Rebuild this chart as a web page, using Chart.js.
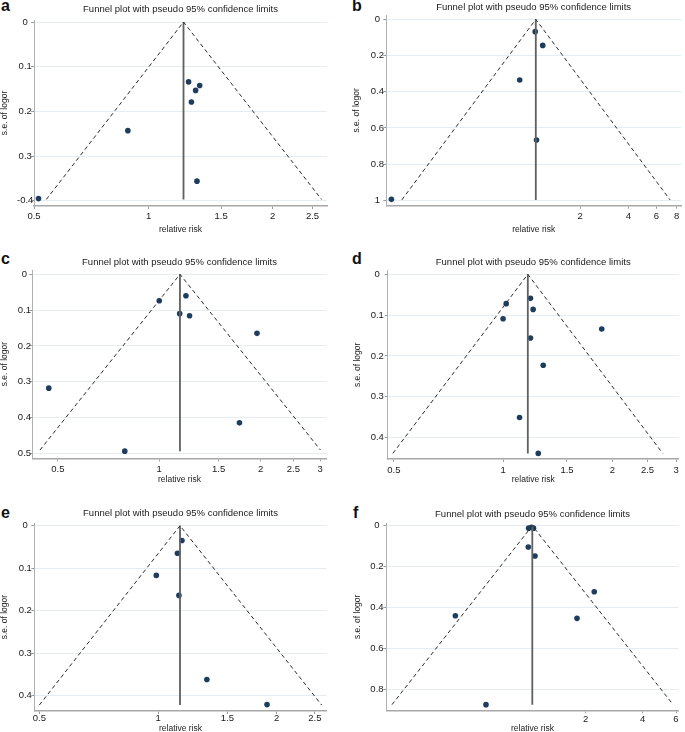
<!DOCTYPE html>
<html>
<head>
<meta charset="utf-8">
<script src="https://cdn.jsdelivr.net/npm/chart.js@4.4.1/dist/chart.umd.min.js"></script>
<style>
  body { margin: 0; background: #fff; width: 685px; height: 732px; position: relative; overflow: hidden; }
  canvas { position: absolute; }
  .tag { position: absolute; font: bold 16px "Liberation Sans", Arial, sans-serif; line-height: 16px; color: #111; }
</style>
</head>
<body>
<div class="tag" style="left:1px;top:-2px">a</div>
<div class="tag" style="left:352px;top:-2px">b</div>
<div class="tag" style="left:1px;top:251px">c</div>
<div class="tag" style="left:352px;top:251px">d</div>
<div class="tag" style="left:1px;top:505px">e</div>
<div class="tag" style="left:353px;top:505px">f</div>
<script>
const TITLE = 'Funnel plot with pseudo 95% confidence limits';

// panel a
const aRR = [1.25, 1.33, 1.30, 1.27, 0.89, 1.31, 0.54];
const aSE = [0.134, 0.142, 0.153, 0.179, 0.243, 0.356, 0.395];
const aFunnelRR = [0.564, 1.215, 2.63];
const aFunnelSE = [0.397, 0, 0.397];
const aPooledSE = [0, 0.397];
const aXTicks = [0.5265, 1, 1.5, 2, 2.5];
const aXLabels = ['0.5', '1', '1.5', '2', '2.5'];
const aYTicks = [0, 0.1, 0.2, 0.3, 0.4];
const aYLabels = ['0', '0.1', '0.2', '0.3', '-0.4'];

// panel b
const bRR = [1.05, 1.17, 0.84, 1.07, 0.133];
const bSE = [0.068, 0.144, 0.335, 0.667, 0.995];
const bFunnelRR = [0.1545, 1.059, 7.29];
const bFunnelSE = [0.998, 0, 0.998];
const bPooledSE = [0, 0.998];
const bXTicks = [2, 4, 6, 8];
const bXLabels = ['2', '4', '6', '8'];
const bYTicks = [0, 0.2, 0.4, 0.6, 0.8, 1];
const bYLabels = ['0', '0.2', '0.4', '0.6', '0.8', '1'];

// panel c
const cRR = [1.00, 1.20, 1.15, 1.23, 1.95, 0.47, 1.73, 0.79];
const cSE = [0.074, 0.060, 0.110, 0.116, 0.165, 0.318, 0.415, 0.494];
const cFunnelRR = [0.4425, 1.152, 3.01];
const cFunnelSE = [0.491, 0, 0.491];
const cPooledSE = [0, 0.494];
const cXTicks = [0.5, 1, 1.5, 2, 2.5, 3];
const cXLabels = ['0.5', '1', '1.5', '2', '2.5', '3'];
const cYTicks = [0, 0.1, 0.2, 0.3, 0.4, 0.5];
const cYLabels = ['0', '0.1', '0.2', '0.3', '0.4', '0.5'];

// panel d
const dRR = [1.02, 1.19, 1.21, 1.00, 1.19, 1.87, 1.29, 1.11, 1.25];
const dSE = [0.072, 0.059, 0.086, 0.109, 0.156, 0.134, 0.223, 0.351, 0.439];
const dFunnelRR = [0.497, 1.17, 2.753];
const dFunnelSE = [0.439, 0, 0.439];
const dPooledSE = [0, 0.439];
const dXTicks = [0.5, 1, 1.5, 2, 2.5, 3];
const dXLabels = ['0.5', '1', '1.5', '2', '2.5', '3'];
const dYTicks = [0, 0.1, 0.2, 0.3, 0.4];
const dYLabels = ['0', '0.1', '0.2', '0.3', '0.4'];

// panel e
const eRR = [1.15, 1.12, 0.99, 1.13, 1.33, 1.89];
const eSE = [0.035, 0.065, 0.117, 0.164, 0.362, 0.421];
const eFunnelRR = [0.50, 1.137, 2.60];
const eFunnelSE = [0.422, 0, 0.422];
const ePooledSE = [0, 0.422];
const eXTicks = [0.5, 1, 1.5, 2, 2.5];
const eXLabels = ['0.5', '1', '1.5', '2', '2.5'];
const eYTicks = [0, 0.1, 0.2, 0.3, 0.4];
const eYLabels = ['0', '0.1', '0.2', '0.3', '0.4'];

// panel f
const fRR = [1.00, 1.035, 1.06, 0.995, 1.08, 2.22, 1.80, 0.41, 0.595];
const fSE = [0.012, 0.008, 0.012, 0.104, 0.148, 0.322, 0.452, 0.439, 0.873];
const fFunnelRR = [0.1896, 1.045, 5.79];
const fFunnelSE = [0.873, 0, 0.873];
const fPooledSE = [0, 0.873];
const fXTicks = [2, 4, 6];
const fXLabels = ['2', '4', '6'];
const fYTicks = [0, 0.2, 0.4, 0.6, 0.8];
const fYLabels = ['0', '0.2', '0.4', '0.6', '0.8'];

const FONT = '"Liberation Sans", Arial, Helvetica, sans-serif';
const TITLE_SIZE = 9.5, TICK_SIZE = 9.5, LAB_SIZE = 8.5, TICK_LEN = 3;

function makePanel(p) {
  const [bx, by, bw, bh0] = p.box;
  const [al, at, ar, ab] = p.area;
  const titleLH = TITLE_SIZE * 1.2, tickLH = TICK_SIZE * 1.2, labLH = LAB_SIZE * 1.2;
  const bh = Math.max(bh0, Math.ceil(p.xTitleY + labLH / 2 + 1 - by));

  const canvas = document.createElement('canvas');
  canvas.width = bw;
  canvas.height = bh;
  canvas.style.left = bx + 'px';
  canvas.style.top = by + 'px';
  document.body.appendChild(canvas);

  const titlePadTop = p.titleY - by - titleLH / 2;
  const titlePadBottom = at - by - titlePadTop - titleLH;
  const yAxisW = al - bx;
  const xAxisH = p.xTitleY + labLH / 2 - ab;
  const xTickPad = p.tickY - ab - TICK_LEN - tickLH / 2;
  const yTitlePad = Math.max(0, p.yTitleX - bx - labLH / 2);
  const widest = Math.max(...p.yLabels.map(s => s.length));
  const yTickPad = al - TICK_LEN - p.yLabX - widest * TICK_SIZE * 0.3;

  const pts = p.rr.map((x, i) => ({x: x, y: p.se[i]}));
  const funnel = p.funnelRR.map((x, i) => ({x: x, y: p.funnelSE[i]}));
  const pooled = p.pooledSE.map(y => ({x: p.funnelRR[1], y: y}));

  new Chart(canvas, {
    type: 'scatter',
    data: {
      datasets: [
        {data: funnel, showLine: true, borderColor: '#2a2a2a', borderWidth: 1, borderDash: [4, 3], pointRadius: 0, clip: false},
        {data: pooled, showLine: true, borderColor: '#606060', borderWidth: 1.8, pointRadius: 0, clip: false},
        {data: pts, pointRadius: 2.8, pointBackgroundColor: '#1d3c5e', pointBorderWidth: 0, clip: false}
      ]
    },
    options: {
      responsive: false,
      animation: false,
      events: [],
      layout: {padding: {left: 0, top: 0, right: bx + bw - ar, bottom: by + bh - ab - xAxisH}},
      plugins: {
        legend: {display: false},
        tooltip: {enabled: false},
        title: {
          display: true, text: TITLE, fullSize: false, color: '#1a1a1a',
          font: {family: FONT, size: TITLE_SIZE, weight: 'normal'},
          padding: {top: titlePadTop, bottom: titlePadBottom}
        }
      },
      scales: {
        x: {
          type: 'logarithmic', min: p.xMin, max: p.xMax,
          afterBuildTicks: s => { s.ticks = p.xTicks.map(v => ({value: v})); },
          afterFit: s => { s.height = xAxisH; },
          ticks: {
            autoSkip: false, maxRotation: 0, padding: xTickPad, color: '#1a1a1a',
            font: {family: FONT, size: TICK_SIZE},
            callback: (v, i) => p.xLabels[i]
          },
          grid: {drawOnChartArea: false, drawTicks: true, tickLength: TICK_LEN, tickColor: '#9a9a9a'},
          border: {display: true, color: '#a8a8a8', width: 1.5},
          title: {display: true, text: 'relative risk', color: '#1a1a1a', font: {family: FONT, size: LAB_SIZE}, padding: {top: 0, bottom: 0}}
        },
        y: {
          type: 'linear', reverse: true, min: p.yMin, max: p.yMax, bounds: 'data',
          afterBuildTicks: s => { s.ticks = p.yTicks.map(v => ({value: v})); },
          afterFit: s => { s.width = yAxisW; },
          ticks: {
            autoSkip: false, crossAlign: 'center', padding: yTickPad, color: '#1a1a1a',
            font: {family: FONT, size: TICK_SIZE},
            callback: (v, i) => p.yLabels[i]
          },
          grid: {color: '#e4edf1', lineWidth: 1, drawTicks: true, tickLength: TICK_LEN, tickColor: '#9a9a9a'},
          border: {display: true, color: '#b0b0b0', width: 1},
          title: {display: true, text: 's.e. of logor', color: '#1a1a1a', font: {family: FONT, size: LAB_SIZE}, padding: {top: yTitlePad, bottom: 0}}
        }
      }
    }
  });
}

const panels = [
  {rr: aRR, se: aSE, funnelRR: aFunnelRR, funnelSE: aFunnelSE, pooledSE: aPooledSE,
   xTicks: aXTicks, xLabels: aXLabels, yTicks: aYTicks, yLabels: aYLabels,
   box: [0, 0, 342, 240], area: [34, 20, 327, 206], xMin: 0.5265, xMax: 2.711, yMin: -0.0045, yMax: 0.4116,
   titleY: 9.5, tickY: 216.7, xTitleY: 229.3, yTitleX: 5, yLabX: 22},
  {rr: bRR, se: bSE, funnelRR: bFunnelRR, funnelSE: bFunnelSE, pooledSE: bPooledSE,
   xTicks: bXTicks, xLabels: bXLabels, yTicks: bYTicks, yLabels: bYLabels,
   box: [342, 0, 343, 240], area: [386.3, 15, 684, 205.7], xMin: 0.1236, xMax: 8.53, yMin: -0.024, yMax: 1.03,
   titleY: 7.3, tickY: 216.7, xTitleY: 229.3, yTitleX: 357, yLabX: 375.5},
  {rr: cRR, se: cSE, funnelRR: cFunnelRR, funnelSE: cFunnelSE, pooledSE: cPooledSE,
   xTicks: cXTicks, xLabels: cXLabels, yTicks: cYTicks, yLabels: cYLabels,
   box: [0, 240, 342, 245], area: [32.3, 270, 326.7, 458.3], xMin: 0.420, xMax: 3.14, yMin: -0.012, yMax: 0.514,
   titleY: 262.7, tickY: 469.3, xTitleY: 479.3, yTitleX: 5, yLabX: 22.5},
  {rr: dRR, se: dSE, funnelRR: dFunnelRR, funnelSE: dFunnelSE, pooledSE: dPooledSE,
   xTicks: dXTicks, xLabels: dXLabels, yTicks: dYTicks, yLabels: dYLabels,
   box: [342, 240, 343, 245], area: [387.7, 270.7, 678.7, 459], xMin: 0.481, xMax: 3.047, yMin: -0.0088, yMax: 0.4527,
   titleY: 262.7, tickY: 470, xTitleY: 479.3, yTitleX: 358, yLabX: 375.3},
  {rr: eRR, se: eSE, funnelRR: eFunnelRR, funnelSE: eFunnelSE, pooledSE: ePooledSE,
   xTicks: eXTicks, xLabels: eXLabels, yTicks: eYTicks, yLabels: eYLabels,
   box: [0, 485, 342, 247], area: [34.3, 523.3, 326.7, 711], xMin: 0.4855, xMax: 2.678, yMin: -0.0056, yMax: 0.436,
   titleY: 513.3, tickY: 718.3, xTitleY: 728.3, yTitleX: 5, yLabX: 23.3},
  {rr: fRR, se: fSE, funnelRR: fFunnelRR, funnelSE: fFunnelSE, pooledSE: fPooledSE,
   xTicks: fXTicks, xLabels: fXLabels, yTicks: fYTicks, yLabels: fYLabels,
   box: [342, 485, 343, 247], area: [386.3, 523.3, 678.7, 710.3], xMin: 0.177, xMax: 6.20, yMin: -0.0117, yMax: 0.9005,
   titleY: 514.3, tickY: 719, xTitleY: 729, yTitleX: 358, yLabX: 375}
];

panels.forEach(makePanel);
</script>
</body>
</html>
